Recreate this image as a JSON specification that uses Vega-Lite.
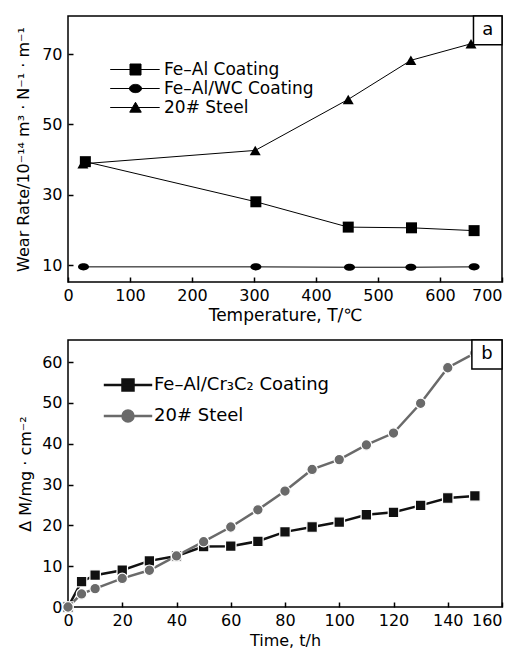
{
  "$schema": "https://vega.github.io/schema/vega-lite/v6.json",
  "padding": {"left": 14, "top": 14, "right": 6, "bottom": 3},
  "spacing": 14,
  "background": "white",
  "resolve": {"scale": {"shape": "independent", "fill": "independent", "stroke": "independent"}, "legend": {"shape": "independent", "fill": "independent", "stroke": "independent"}},
  "datasets": {
    "wear": [
      {"T": 24, "W": 38.8, "s": "20# Steel"},
      {"T": 302, "W": 42.6, "s": "20# Steel"},
      {"T": 452, "W": 57.1, "s": "20# Steel"},
      {"T": 553, "W": 68.2, "s": "20# Steel"},
      {"T": 650, "W": 72.9, "s": "20# Steel"},
      {"T": 28, "W": 39.4, "s": "Fe–Al Coating"},
      {"T": 303, "W": 28.0, "s": "Fe–Al Coating"},
      {"T": 452, "W": 20.8, "s": "Fe–Al Coating"},
      {"T": 554, "W": 20.6, "s": "Fe–Al Coating"},
      {"T": 655, "W": 19.8, "s": "Fe–Al Coating"},
      {"T": 25, "W": 9.5, "s": "Fe–Al/WC Coating"},
      {"T": 303, "W": 9.5, "s": "Fe–Al/WC Coating"},
      {"T": 454, "W": 9.4, "s": "Fe–Al/WC Coating"},
      {"T": 553, "W": 9.4, "s": "Fe–Al/WC Coating"},
      {"T": 655, "W": 9.5, "s": "Fe–Al/WC Coating"}
    ],
    "mass": [
      {"t": 0, "M": 0, "s": "Fe–Al/Cr₃C₂ Coating"},
      {"t": 5, "M": 6.2, "s": "Fe–Al/Cr₃C₂ Coating"},
      {"t": 10, "M": 7.8, "s": "Fe–Al/Cr₃C₂ Coating"},
      {"t": 20, "M": 9.0, "s": "Fe–Al/Cr₃C₂ Coating"},
      {"t": 30, "M": 11.3, "s": "Fe–Al/Cr₃C₂ Coating"},
      {"t": 40, "M": 12.5, "s": "Fe–Al/Cr₃C₂ Coating"},
      {"t": 50, "M": 14.8, "s": "Fe–Al/Cr₃C₂ Coating"},
      {"t": 60, "M": 14.9, "s": "Fe–Al/Cr₃C₂ Coating"},
      {"t": 70, "M": 16.1, "s": "Fe–Al/Cr₃C₂ Coating"},
      {"t": 80, "M": 18.4, "s": "Fe–Al/Cr₃C₂ Coating"},
      {"t": 90, "M": 19.6, "s": "Fe–Al/Cr₃C₂ Coating"},
      {"t": 100, "M": 20.8, "s": "Fe–Al/Cr₃C₂ Coating"},
      {"t": 110, "M": 22.6, "s": "Fe–Al/Cr₃C₂ Coating"},
      {"t": 120, "M": 23.2, "s": "Fe–Al/Cr₃C₂ Coating"},
      {"t": 130, "M": 24.9, "s": "Fe–Al/Cr₃C₂ Coating"},
      {"t": 140, "M": 26.7, "s": "Fe–Al/Cr₃C₂ Coating"},
      {"t": 150, "M": 27.2, "s": "Fe–Al/Cr₃C₂ Coating"},
      {"t": 0, "M": 0, "s": "20# Steel"},
      {"t": 5, "M": 3.2, "s": "20# Steel"},
      {"t": 10, "M": 4.5, "s": "20# Steel"},
      {"t": 20, "M": 7.0, "s": "20# Steel"},
      {"t": 30, "M": 9.0, "s": "20# Steel"},
      {"t": 40, "M": 12.5, "s": "20# Steel"},
      {"t": 50, "M": 16.0, "s": "20# Steel"},
      {"t": 60, "M": 19.6, "s": "20# Steel"},
      {"t": 70, "M": 23.8, "s": "20# Steel"},
      {"t": 80, "M": 28.4, "s": "20# Steel"},
      {"t": 90, "M": 33.7, "s": "20# Steel"},
      {"t": 100, "M": 36.1, "s": "20# Steel"},
      {"t": 110, "M": 39.7, "s": "20# Steel"},
      {"t": 120, "M": 42.6, "s": "20# Steel"},
      {"t": 130, "M": 49.9, "s": "20# Steel"},
      {"t": 140, "M": 58.6, "s": "20# Steel"},
      {"t": 150, "M": 62.2, "s": "20# Steel"}
    ],
    "boxA": [{"T": 654, "T2": 700, "W": 72.6, "W2": 80.8, "Tc": 677, "Wc": 76.7, "label": "a"}],
    "boxB": [{"t": 148.9, "t2": 160, "M": 58.3, "M2": 65.4, "tc": 154.45, "Mc": 61.85, "label": "b"}]
  },
  "vconcat": [
    {"hconcat": [
    {
      "width": 434,
      "height": 266,
      "data": {"name": "wear"},
      "layer": [
        {
          "mark": {"type": "line", "color": "black", "strokeWidth": 1},
          "encoding": {
            "x": {"field": "T", "type": "quantitative",
              "scale": {"domain": [0, 700], "nice": false, "zero": false},
              "axis": {"title": "Temperature, T/℃", "titleFontSize": 17,
                "values": [0, 50, 100, 150, 200, 250, 300, 350, 400, 450, 500, 550, 600, 650, 700],
                "labelAlign": {"condition": {"test": "datum.value === 700", "value": "right"}, "value": "center"},
                "labelExpr": "datum.value % 100 === 0 ? datum.label : ''"}},
            "y": {"field": "W", "type": "quantitative",
              "scale": {"domain": [5.2, 80.8], "nice": false, "zero": false},
              "axis": {"title": "Wear Rate/10⁻¹⁴ m³ · N⁻¹ · m⁻¹", "titlePadding": 10, "labelPadding": 6,
                "values": [10, 15, 20, 25, 30, 35, 40, 45, 50, 55, 60, 65, 70, 75, 80],
                "labelExpr": "datum.value % 10 === 0 ? datum.label : ''"}},
            "detail": {"field": "s", "type": "nominal"}
          }
        },
        {
          "transform": [{"filter": "datum.s === '20# Steel'"}],
          "mark": {"type": "point", "filled": true, "opacity": 1, "color": "black", "size": 121, "shape": "triangle-up"},
          "encoding": {"x": {"field": "T", "type": "quantitative"}, "y": {"field": "W", "type": "quantitative"}}
        },
        {
          "transform": [{"filter": "datum.s === 'Fe–Al Coating'"}],
          "mark": {"type": "point", "filled": true, "opacity": 1, "color": "black", "size": 121, "shape": "square"},
          "encoding": {"x": {"field": "T", "type": "quantitative"}, "y": {"field": "W", "type": "quantitative"}}
        },
        {
          "transform": [{"filter": "datum.s === 'Fe–Al/WC Coating'"}],
          "mark": {"type": "point", "filled": true, "opacity": 1, "color": "black", "size": 121, "shape": "M-1,0A1,0.65 0 1,0 1,0A1,0.65 0 1,0 -1,0Z"},
          "encoding": {"x": {"field": "T", "type": "quantitative"}, "y": {"field": "W", "type": "quantitative"}}
        },
        {
          "mark": {"type": "point", "filled": true, "opacity": 0, "size": 121, "strokeWidth": 1},
          "encoding": {
            "x": {"field": "T", "type": "quantitative"},
            "y": {"field": "W", "type": "quantitative"},
            "shape": {"field": "s", "type": "nominal",
              "scale": {"domain": ["Fe–Al Coating", "Fe–Al/WC Coating", "20# Steel"],
                "range": ["M-4.6,0H4.4M-1,-1H1V1H-1Z", "M-4.6,0H4.4M-1.1,0A1.1,0.75 0 1,0 1.1,0A1.1,0.75 0 1,0 -1.1,0Z", "M-4.6,0H4.4M0,-0.95L1.05,0.85L-1.05,0.85Z"]},
              "legend": {"orient": "none", "legendX": 59, "legendY": 45, "title": null, "padding": 0, "labelLimit": 0,
                "labelFontSize": 17, "labelColor": "black", "rowPadding": 1, "symbolSize": 121, "labelOffset": 20,
                "symbolOpacity": 1, "symbolStrokeWidth": 1}},
            "fill": {"field": "s", "type": "nominal",
              "scale": {"domain": ["Fe–Al Coating", "Fe–Al/WC Coating", "20# Steel"], "range": ["black", "black", "black"]},
              "legend": {"orient": "none", "legendX": 59, "legendY": 45, "title": null, "padding": 0, "labelLimit": 0,
                "labelFontSize": 17, "labelColor": "black", "rowPadding": 1, "symbolSize": 121, "labelOffset": 20,
                "symbolOpacity": 1, "symbolStrokeWidth": 1}},
            "stroke": {"field": "s", "type": "nominal",
              "scale": {"domain": ["Fe–Al Coating", "Fe–Al/WC Coating", "20# Steel"], "range": ["black", "black", "black"]},
              "legend": {"orient": "none", "legendX": 59, "legendY": 45, "title": null, "padding": 0, "labelLimit": 0,
                "labelFontSize": 17, "labelColor": "black", "rowPadding": 1, "symbolSize": 121, "labelOffset": 20,
                "symbolOpacity": 1, "symbolStrokeWidth": 1}}
          }
        },
        {
          "data": {"name": "boxA"},
          "mark": {"type": "rect", "fill": "white", "stroke": "black", "strokeWidth": 1.5},
          "encoding": {
            "x": {"field": "T", "type": "quantitative"},
            "x2": {"field": "T2"},
            "y": {"field": "W", "type": "quantitative"},
            "y2": {"field": "W2"}
          }
        },
        {
          "data": {"name": "boxA"},
          "mark": {"type": "text", "fontSize": 18, "color": "black"},
          "encoding": {
            "x": {"field": "Tc", "type": "quantitative"},
            "y": {"field": "Wc", "type": "quantitative"},
            "text": {"field": "label"}
          }
        }
      ]
    }]},
    {"hconcat": [
    {
      "width": 434,
      "height": 267,
      "data": {"name": "mass"},
      "layer": [
        {
          "transform": [{"filter": "datum.s === 'Fe–Al/Cr₃C₂ Coating'"}],
          "mark": {"type": "line", "strokeWidth": 2.5, "color": "#111111"},
          "encoding": {
            "x": {"field": "t", "type": "quantitative",
              "scale": {"domain": [0, 160], "nice": false, "zero": false},
              "axis": {"title": "Time, t/h",
                "values": [0, 10, 20, 30, 40, 50, 60, 70, 80, 90, 100, 110, 120, 130, 140, 150, 160],
                "labelAlign": {"condition": {"test": "datum.value === 160", "value": "right"}, "value": "center"},
                "labelExpr": "datum.value % 20 === 0 ? datum.label : ''"}},
            "y": {"field": "M", "type": "quantitative",
              "scale": {"domain": [0, 65.4], "nice": false, "zero": false},
              "axis": {"title": "Δ M/mg · cm⁻²", "titlePadding": 8, "labelPadding": 6,
                "values": [0, 5, 10, 15, 20, 25, 30, 35, 40, 45, 50, 55, 60, 65],
                "labelExpr": "datum.value % 10 === 0 ? datum.label : ''"}}
          }
        },
        {
          "transform": [{"filter": "datum.s === '20# Steel'"}],
          "mark": {"type": "line", "strokeWidth": 2.5, "color": "#6a6a6a"},
          "encoding": {"x": {"field": "t", "type": "quantitative"}, "y": {"field": "M", "type": "quantitative"}}
        },
        {
          "transform": [{"filter": "datum.s === 'Fe–Al/Cr₃C₂ Coating'"}],
          "mark": {"type": "point", "filled": true, "opacity": 1, "size": 110, "shape": "square", "fill": "#111111", "stroke": "white", "strokeWidth": 1.2},
          "encoding": {"x": {"field": "t", "type": "quantitative"}, "y": {"field": "M", "type": "quantitative"}}
        },
        {
          "transform": [{"filter": "datum.s === '20# Steel'"}],
          "mark": {"type": "point", "filled": true, "opacity": 1, "size": 110, "shape": "circle", "fill": "#6a6a6a", "stroke": "white", "strokeWidth": 1.2},
          "encoding": {"x": {"field": "t", "type": "quantitative"}, "y": {"field": "M", "type": "quantitative"}}
        },
        {
          "mark": {"type": "point", "filled": true, "opacity": 0, "size": 110, "strokeWidth": 2.5},
          "encoding": {
            "x": {"field": "t", "type": "quantitative"},
            "y": {"field": "M", "type": "quantitative"},
            "shape": {"field": "s", "type": "nominal",
              "scale": {"domain": ["Fe–Al/Cr₃C₂ Coating", "20# Steel"], "range": ["M-4.4,0H4.4M-1,-1H1V1H-1Z", "M-4.4,0H4.4M-1,0A1,1 0 1,0 1,0A1,1 0 1,0 -1,0Z"]},
              "legend": {"orient": "none", "legendX": 51, "legendY": 36, "title": null, "padding": 0, "labelLimit": 0,
                "labelFontSize": 18, "labelColor": "black", "rowPadding": 9, "symbolSize": 121, "labelOffset": 17,
                "symbolOpacity": 1, "symbolStrokeWidth": 2.5}},
            "fill": {"field": "s", "type": "nominal",
              "scale": {"domain": ["Fe–Al/Cr₃C₂ Coating", "20# Steel"], "range": ["#111111", "#6a6a6a"]},
              "legend": {"orient": "none", "legendX": 51, "legendY": 36, "title": null, "padding": 0, "labelLimit": 0,
                "labelFontSize": 18, "labelColor": "black", "rowPadding": 9, "symbolSize": 121, "labelOffset": 17,
                "symbolOpacity": 1, "symbolStrokeWidth": 2.5}},
            "stroke": {"field": "s", "type": "nominal",
              "scale": {"domain": ["Fe–Al/Cr₃C₂ Coating", "20# Steel"], "range": ["#111111", "#6a6a6a"]},
              "legend": {"orient": "none", "legendX": 51, "legendY": 36, "title": null, "padding": 0, "labelLimit": 0,
                "labelFontSize": 18, "labelColor": "black", "rowPadding": 9, "symbolSize": 121, "labelOffset": 17,
                "symbolOpacity": 1, "symbolStrokeWidth": 2.5}}
          }
        },
        {
          "data": {"name": "boxB"},
          "mark": {"type": "rect", "fill": "white", "stroke": "black", "strokeWidth": 1.5},
          "encoding": {
            "x": {"field": "t", "type": "quantitative"},
            "x2": {"field": "t2"},
            "y": {"field": "M", "type": "quantitative"},
            "y2": {"field": "M2"}
          }
        },
        {
          "data": {"name": "boxB"},
          "mark": {"type": "text", "fontSize": 18, "color": "black"},
          "encoding": {
            "x": {"field": "tc", "type": "quantitative"},
            "y": {"field": "Mc", "type": "quantitative"},
            "text": {"field": "label"}
          }
        }
      ]
    }]}
  ],
  "config": {
    "font": "DejaVu Sans",
    "view": {"stroke": "black", "strokeWidth": 1.5},
    "axis": {"domain": false, "grid": false, "tickSize": 5, "offset": -5, "tickColor": "black", "tickWidth": 1.5,
      "labelFontSize": 16, "labelColor": "black", "labelPadding": 5, "labelFlush": false, "labelBound": false,
      "titleFontSize": 16, "titleFontWeight": "normal", "titleColor": "black", "labelOverlap": false},
    "legend": {"labelFont": "DejaVu Sans"},
    "text": {"font": "DejaVu Sans"}
  }
}
